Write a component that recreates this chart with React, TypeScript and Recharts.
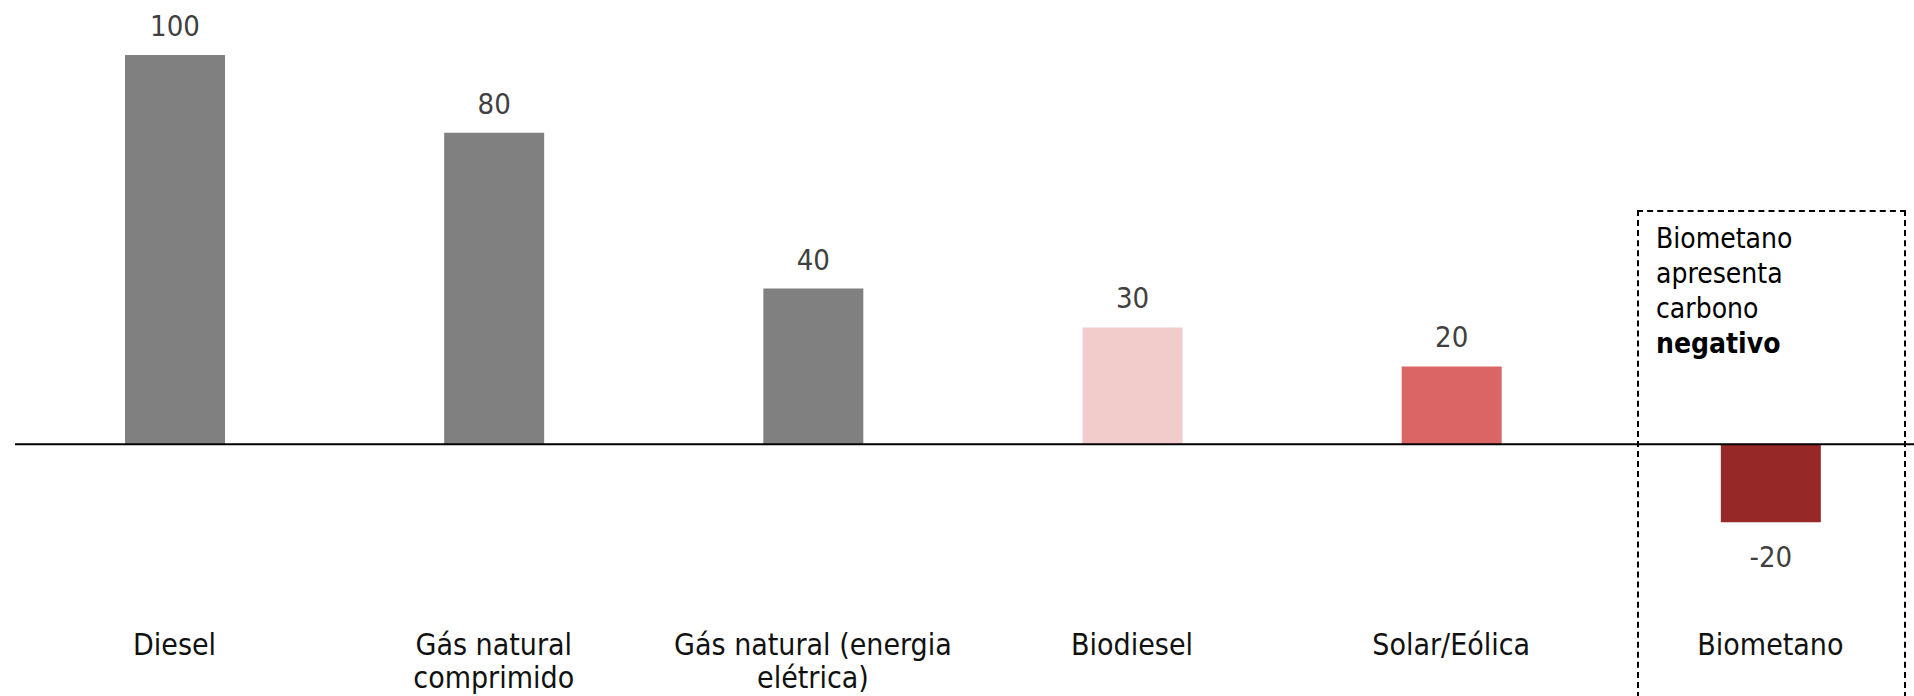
import React from 'react';
import { BarChart, Bar, XAxis, YAxis, Cell, LabelList, ReferenceLine } from 'recharts';

const categories = ['Diesel', 'Gás natural\ncomprimido', 'Gás natural (energia\nelétrica)', 'Biodiesel', 'Solar/Eólica', 'Biometano'];
const values = [100, 80, 40, 30, 20, -20];
const colors = ['#808080', '#808080', '#808080', '#F2CBCB', '#DB6565', '#962828'];
const noteLines = ['Biometano', 'apresenta', 'carbono'];
const noteBold = 'negativo';

const data = categories.map((name, i) => ({ name, value: values[i] }));

const FONT = '"DejaVu Sans Condensed", "DejaVu Sans", sans-serif';

const CategoryTick = (props: any) => {
  const { x, y, payload } = props;
  const lines = String(payload.value).split('\n');
  return (
    <g>
      {lines.map((line: string, i: number) => (
        <text
          key={i}
          x={x}
          y={y + 55 + i * 33}
          textAnchor="middle"
          fontFamily={FONT}
          fontSize={30}
          fill="#111"
        >
          {line}
        </text>
      ))}
    </g>
  );
};

const ValueLabel = (props: any) => {
  const { x, y, width, height, value } = props;
  const top = Math.min(y, y + height);
  const bottom = Math.max(y, y + height);
  const ty = value >= 0 ? top - 19 : bottom + 45;
  return (
    <text
      x={x + width / 2}
      y={ty}
      textAnchor="middle"
      fontFamily={FONT}
      fontSize={29}
      fill="#404040"
    >
      {value}
    </text>
  );
};

const App: React.FC = () => {
  return (
    <div style={{ position: 'absolute', left: 0, top: 0, width: 1914, height: 696, overflow: 'hidden', background: '#fff' }}>
      <BarChart
        width={1930}
        height={696}
        data={data}
        margin={{ top: 16, right: 0, bottom: 0, left: 15 }}
      >
        <XAxis
          dataKey="name"
          axisLine={false}
          tickLine={false}
          tickSize={0}
          tickMargin={0}
          height={96}
          interval={0}
          tick={<CategoryTick />}
        />
        <YAxis hide domain={[-40, 110]} />
        <ReferenceLine y={0} stroke="#000" strokeWidth={2} />
        <Bar dataKey="value" barSize={100} isAnimationActive={false}>
          {data.map((d, i) => (
            <Cell key={d.name} fill={colors[i]} />
          ))}
          <LabelList dataKey="value" content={<ValueLabel />} />
        </Bar>
      </BarChart>
      <div
        style={{
          position: 'absolute',
          left: 1637,
          top: 210,
          width: 265,
          height: 484,
          border: '2px dashed #000',
        }}
      />
      <div
        style={{
          position: 'absolute',
          left: 1656,
          top: 221,
          fontFamily: FONT,
          fontSize: 28,
          lineHeight: '35px',
          color: '#000',
        }}
      >
        {noteLines.map((l) => (
          <div key={l}>{l}</div>
        ))}
        <div style={{ fontWeight: 'bold' }}>{noteBold}</div>
      </div>
    </div>
  );
};

export default App;
